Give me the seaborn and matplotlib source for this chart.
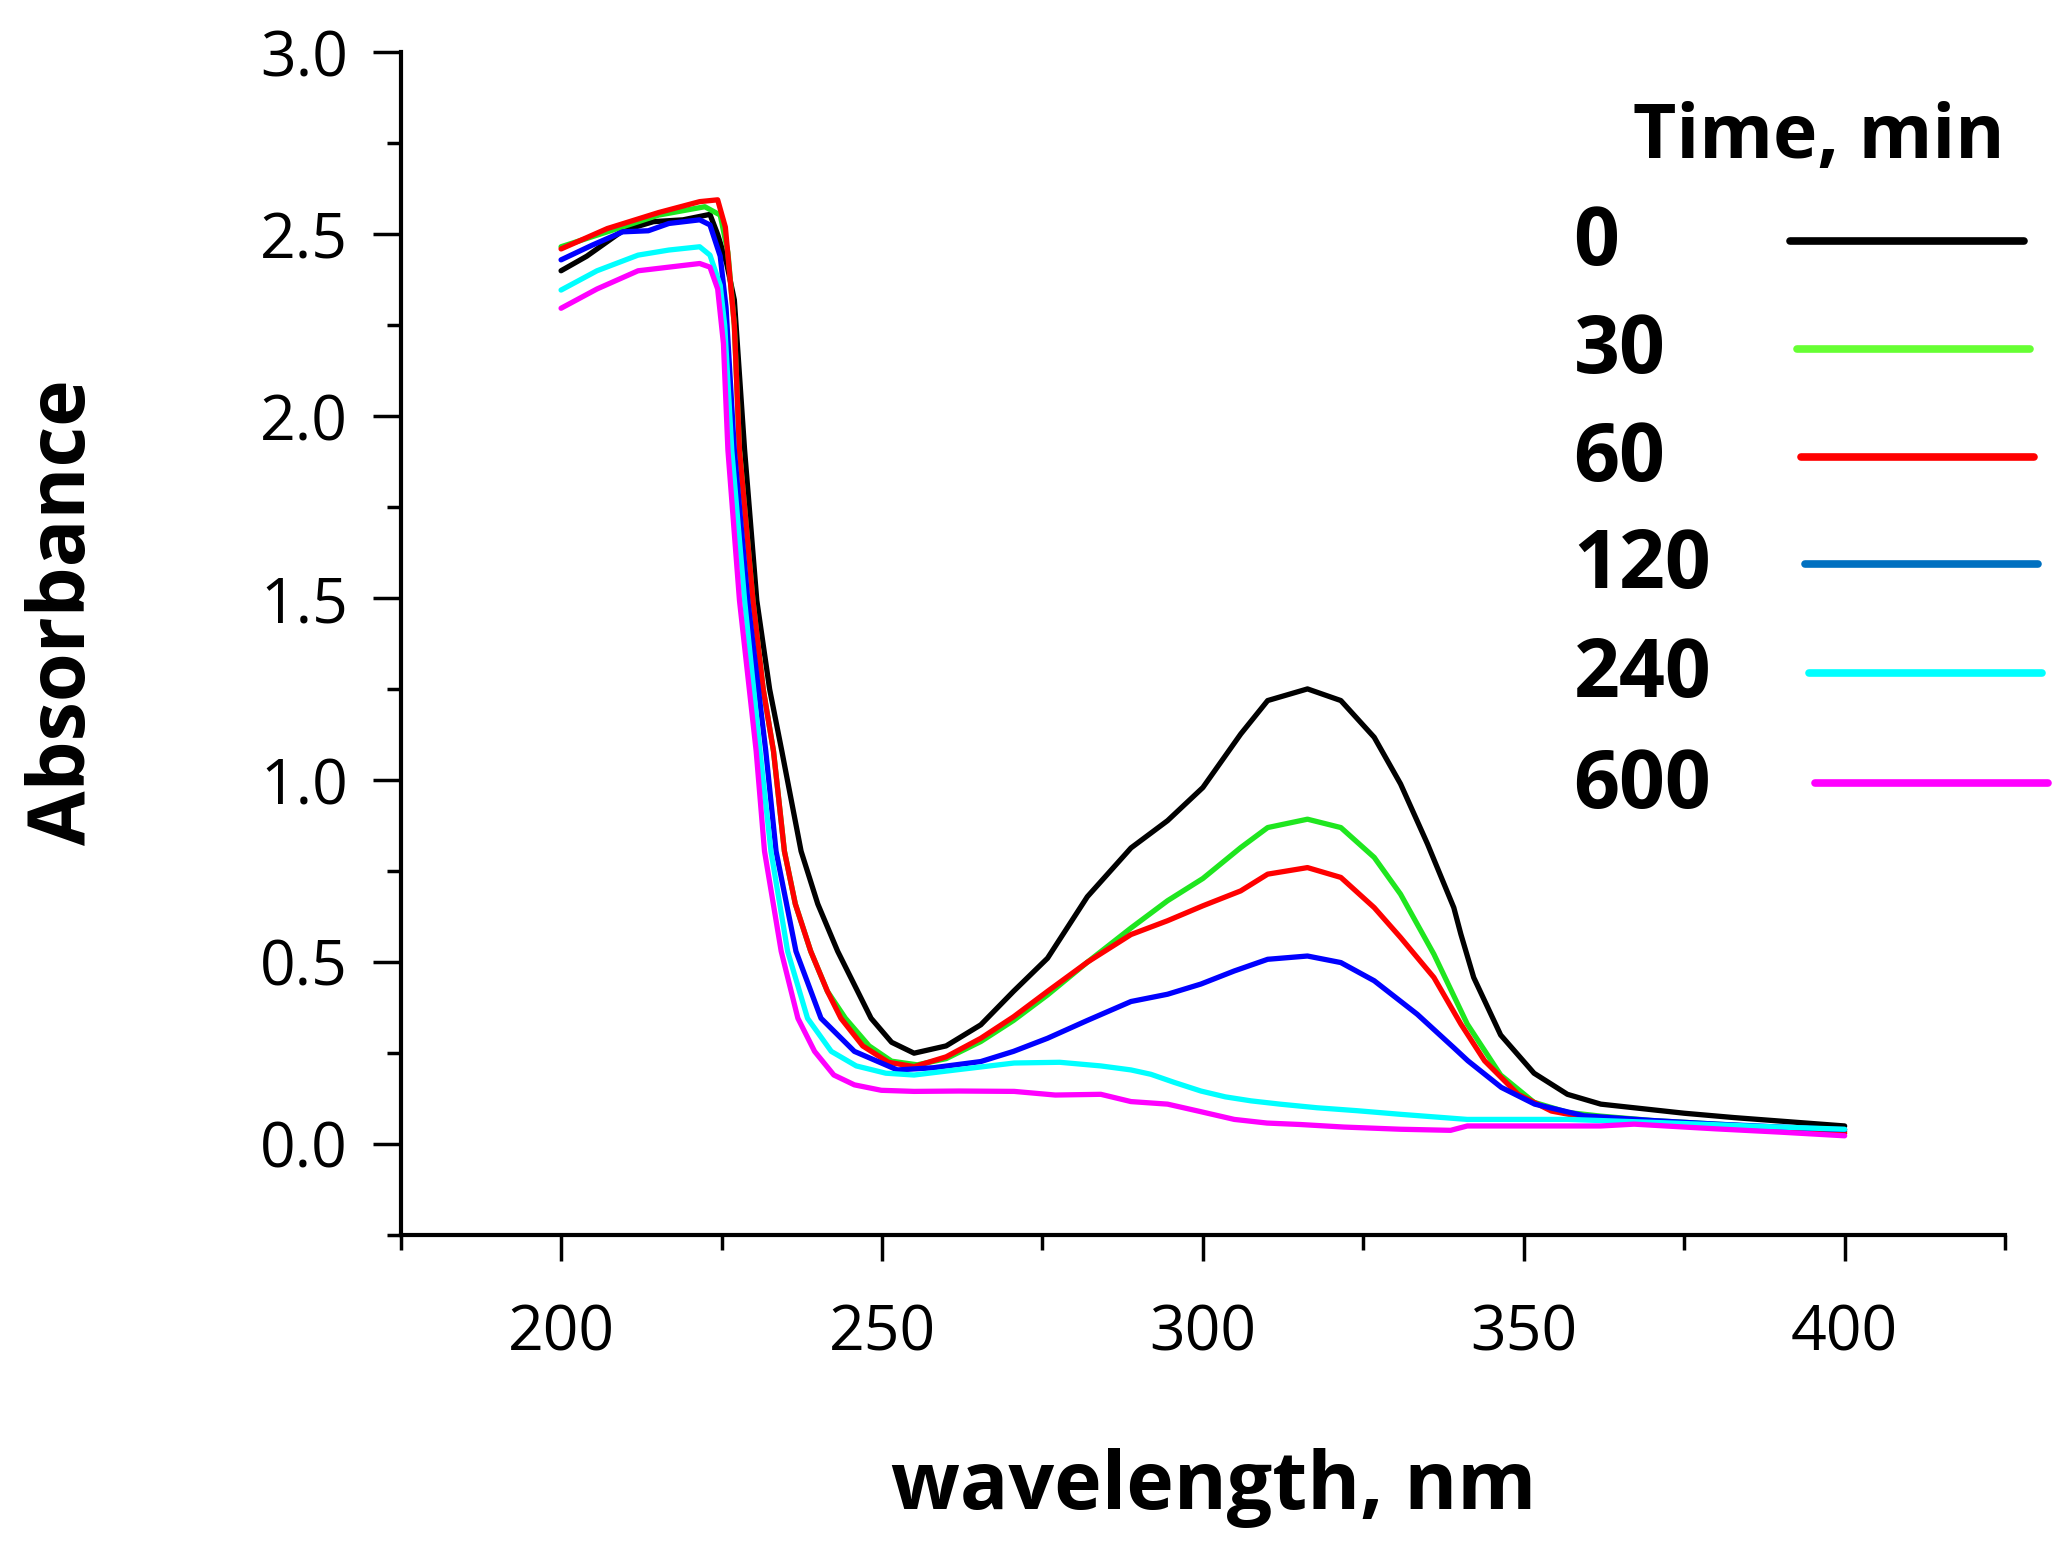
import pandas as pd
import seaborn as sns
import matplotlib.pyplot as plt
from matplotlib.ticker import MultipleLocator, FormatStrFormatter

# time labels and colours
times = ["0", "30", "60", "120", "240", "600"]
curve_colors = ["#000000", "#1fe61f", "#ff0000", "#0000ff", "#00ffff", "#ff00ff"]
legend_colors = ["#000000", "#66ff33", "#ff0000", "#0070c0", "#00ffff", "#ff00ff"]

# spectra (wavelength nm, absorbance)
wl_0 = [200, 204, 209.6, 214.4, 219, 223.2, 224.4, 225.8, 227.0, 228.6, 230.5, 232.5, 234.4,
        237.4, 240, 243.1, 248.3, 251.5, 255, 260, 265.4, 270.5, 275.8, 282, 288.8, 294.5,
        300, 305.9, 310.1, 316.3, 321.5, 326.7, 330.8, 335, 339.1, 340.2, 342.2, 346.4,
        351.6, 356.8, 362, 367.2, 375, 382.8, 391, 400]
abs_0 = [2.40, 2.44, 2.51, 2.535, 2.54, 2.555, 2.50, 2.42, 2.32, 1.907, 1.494, 1.25, 1.08,
         0.805, 0.66, 0.53, 0.346, 0.28, 0.25, 0.27, 0.328, 0.42, 0.511, 0.68, 0.814, 0.889,
         0.98, 1.127, 1.219, 1.251, 1.219, 1.118, 0.99, 0.825, 0.65, 0.577, 0.458, 0.30,
         0.195, 0.137, 0.11, 0.10, 0.085, 0.073, 0.062, 0.05]

wl_30 = [200, 207.2, 215.2, 222.4, 224.8, 226.0, 227.0, 227.8, 229.9, 231.5, 233.1, 234.8,
         236.5, 238.9, 241.5, 244.3, 248, 251.5, 255.5, 260, 265.4, 270.5, 275.8, 282, 288.8,
         294.5, 300, 305.9, 310.1, 316.3, 321.5, 326.7, 330.8, 336, 341.2, 346.4, 351.6,
         356.9, 362, 370, 380, 390, 400]
abs_30 = [2.466, 2.507, 2.553, 2.576, 2.553, 2.45, 2.25, 1.907, 1.494, 1.25, 1.08, 0.805,
          0.66, 0.53, 0.42, 0.346, 0.27, 0.228, 0.218, 0.235, 0.282, 0.34, 0.41, 0.50, 0.594,
          0.669, 0.73, 0.815, 0.87, 0.893, 0.87, 0.788, 0.687, 0.522, 0.33, 0.19, 0.115,
          0.087, 0.077, 0.065, 0.055, 0.045, 0.035]

wl_60 = [200, 207.2, 215.2, 221.6, 224.4, 225.6, 227.0, 227.8, 229.9, 231.5, 233.1, 234.8,
         236.5, 238.9, 241.5, 243.6, 247, 251, 255, 260, 265.4, 270.5, 275.8, 282, 288.8,
         294.5, 300, 305.9, 310.1, 316.3, 321.5, 326.7, 330.8, 336, 340.2, 343.9, 349.1,
         354.3, 360, 370, 380, 390, 400]
abs_60 = [2.46, 2.516, 2.56, 2.59, 2.595, 2.52, 2.25, 1.907, 1.494, 1.25, 1.08, 0.805,
          0.66, 0.53, 0.42, 0.346, 0.27, 0.225, 0.213, 0.24, 0.291, 0.35, 0.42, 0.50, 0.576,
          0.614, 0.655, 0.696, 0.742, 0.76, 0.733, 0.65, 0.568, 0.458, 0.33, 0.229, 0.137,
          0.091, 0.072, 0.06, 0.05, 0.04, 0.03]

wl_120 = [200, 204.8, 209.6, 213.6, 216.8, 221.6, 223.2, 224.8, 225.7, 227.0, 229.1, 231.9,
          233.5, 236.6, 240.5, 245.7, 252.4, 258, 265.4, 270.5, 275.8, 282, 288.8, 294.5,
          299.7, 304.9, 310.1, 316.3, 321.5, 326.7, 333.4, 339.1, 341.3, 346.5, 351.7, 359.4,
          370, 380, 390, 400]
abs_120 = [2.43, 2.47, 2.507, 2.51, 2.53, 2.54, 2.526, 2.44, 2.30, 1.907, 1.494, 1.08,
           0.805, 0.53, 0.346, 0.255, 0.204, 0.21, 0.227, 0.255, 0.291, 0.34, 0.392, 0.412,
           0.44, 0.476, 0.508, 0.517, 0.499, 0.449, 0.357, 0.265, 0.229, 0.156, 0.11, 0.078,
           0.065, 0.055, 0.047, 0.04]

wl_240 = [200, 205.6, 212, 216.8, 221.6, 223.2, 224.8, 225.5, 226.6, 228.6, 231.0, 232.7,
          235.3, 238.4, 242.1, 246, 250.6, 255, 262, 270.6, 277.7, 284.1, 288.8, 291.9,
          295.5, 299.7, 303.5, 307.5, 312, 317.8, 324, 330.8, 341.2, 356.9, 370, 385, 400]
abs_240 = [2.347, 2.40, 2.443, 2.457, 2.466, 2.443, 2.36, 2.25, 1.907, 1.494, 1.08, 0.805,
           0.53, 0.346, 0.255, 0.215, 0.195, 0.19, 0.205, 0.223, 0.225, 0.215, 0.204, 0.192,
           0.17, 0.146, 0.13, 0.119, 0.11, 0.10, 0.092, 0.082, 0.068, 0.068, 0.06, 0.05, 0.041]

wl_600 = [200, 205.6, 212, 216.8, 221.6, 223.2, 224.4, 225.3, 226.0, 227.8, 230.4, 231.7,
          234.3, 236.9, 239.5, 242.5, 245.7, 249.9, 255, 262, 270.6, 277, 284.1, 288.8,
          294.5, 299.5, 304.9, 310, 315.2, 322, 330.8, 338.6, 341.2, 350, 362, 367.2, 380,
          390, 400]
abs_600 = [2.297, 2.35, 2.40, 2.41, 2.42, 2.41, 2.35, 2.20, 1.907, 1.494, 1.08, 0.805,
           0.53, 0.346, 0.255, 0.19, 0.163, 0.148, 0.145, 0.146, 0.145, 0.135, 0.137, 0.117,
           0.11, 0.09, 0.068, 0.058, 0.054, 0.047, 0.041, 0.038, 0.05, 0.05, 0.05, 0.055,
           0.042, 0.033, 0.023]

spectra = {"0": (wl_0, abs_0), "30": (wl_30, abs_30), "60": (wl_60, abs_60),
           "120": (wl_120, abs_120), "240": (wl_240, abs_240), "600": (wl_600, abs_600)}

rows = []
for t in times:
    wl, ab = spectra[t]
    for w, a in zip(wl, ab):
        rows.append({"time": t, "wavelength": w, "absorbance": a})
df = pd.DataFrame(rows)

sns.set_theme(style="ticks")
plt.rcParams["font.family"] = ["Open Sans", "DejaVu Sans"]
plt.rcParams["text.color"] = "black"
plt.rcParams["axes.labelcolor"] = "black"
plt.rcParams["xtick.color"] = "black"
plt.rcParams["ytick.color"] = "black"

fig = plt.figure(figsize=(20.65, 15.42), dpi=100)
ax = fig.add_axes([0.194, 0.199, 0.777, 0.767])

sns.lineplot(data=df, x="wavelength", y="absorbance", hue="time", hue_order=times,
             palette=dict(zip(times, curve_colors)), estimator=None, lw=3.8,
             legend=False, ax=ax)

ax.set_xlim(175, 425)
ax.set_ylim(-0.25, 3.0)
ax.xaxis.set_major_locator(MultipleLocator(50))
ax.xaxis.set_minor_locator(MultipleLocator(25))
ax.yaxis.set_major_locator(MultipleLocator(0.5))
ax.yaxis.set_minor_locator(MultipleLocator(0.25))
ax.yaxis.set_major_formatter(FormatStrFormatter("%.1f"))

for s in ["top", "right"]:
    ax.spines[s].set_visible(False)
for s in ["left", "bottom"]:
    ax.spines[s].set_linewidth(3)
    ax.spines[s].set_color("black")

ax.tick_params(axis="both", which="both", direction="out", width=2.5, color="black")
ax.tick_params(axis="y", which="major", length=20, pad=18, labelsize=45)
ax.tick_params(axis="y", which="minor", length=10)
ax.tick_params(axis="x", which="major", length=19, pad=30, labelsize=45)
ax.tick_params(axis="x", which="minor", length=11)

ax.set_xlabel("wavelength, nm", fontsize=58, fontweight="bold")
ax.set_ylabel("Absorbance", fontsize=57, fontweight="bold")
ax.xaxis.set_label_coords(0.507, -0.18)
ax.yaxis.set_label_coords(-0.185, 0.527)

# hand-made legend: labels on the left, line samples on the right
fig.text(0.791, 0.91, "Time, min", fontsize=54, fontweight="bold", va="center", ha="left")
row_y = [0.8417, 0.7717, 0.7017, 0.6325, 0.5616, 0.4899]
line_x0 = [0.867, 0.870, 0.872, 0.874, 0.876, 0.879]
for t, c, y, x0 in zip(times, legend_colors, row_y, line_x0):
    fig.text(0.762, y, t, fontsize=58, fontweight="bold", va="center", ha="left")
    fig.add_artist(plt.Line2D([x0, x0 + 0.113], [y + 0.002, y + 0.002], color=c, lw=5.5,
                              transform=fig.transFigure))

fig.savefig("out.png", dpi=100)
